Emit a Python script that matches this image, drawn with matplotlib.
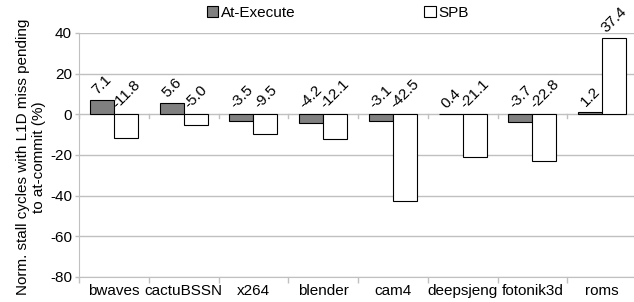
import matplotlib
matplotlib.use("Agg")
import matplotlib.pyplot as plt
import numpy as np
from matplotlib.patches import Patch

categories = ["bwaves", "cactuBSSN", "x264", "blender", "cam4", "deepsjeng", "fotonik3d", "roms"]
at_execute = [7.1, 5.6, -3.5, -4.2, -3.1, 0.4, -3.7, 1.2]
spb = [-11.8, -5.0, -9.5, -12.1, -42.5, -21.1, -22.8, 37.4]
yticks = [40, 20, 0, -20, -40, -60, -80]

plt.rcParams['font.family'] = ['Liberation Sans', 'DejaVu Sans']
FS = 11
fig = plt.figure(figsize=(6.34, 3.02), dpi=100)
ax = fig.add_axes([79/634, 1-277/302, 558/634, 244/302])

x = np.arange(len(categories))
w = 0.345
grid_c = '#c0c0c0'
ax.bar(x - w/2, at_execute, w, color='#808080', edgecolor='black', linewidth=0.8, zorder=3)
ax.bar(x + w/2, spb, w, color='white', edgecolor='black', linewidth=0.8, zorder=3)

for xs, vals in ((x - w/2, at_execute), (x + w/2, spb)):
    for xi, v in zip(xs, vals):
        ax.annotate(f"{v:.1f}", (xi, max(v, 0)), xytext=(0, 2), textcoords='offset points',
                    rotation=45, ha='center', va='bottom', fontsize=FS, zorder=4)

ax.set_xlim(-0.5, len(categories) - 0.5)
ax.set_ylim(-80, 40)
ax.set_yticks(yticks)
ax.set_yticklabels([str(t) for t in yticks], fontsize=FS)
for t in yticks:
    ax.axhline(t, color=grid_c, linewidth=1, zorder=1)
# zero axis ticks
for b in np.arange(len(categories) + 1) - 0.5:
    ax.plot([b, b], [0, -1.6], color=grid_c, linewidth=1, zorder=1, clip_on=False)

ax.set_xticks(x)
ax.set_xticklabels(categories, fontsize=FS)
ax.set_xticks(np.arange(len(categories) + 1) - 0.5, minor=True)
ax.tick_params(axis='x', which='major', length=0, pad=5)
ax.tick_params(axis='x', which='minor', length=4, color=grid_c, width=1)
ax.tick_params(axis='y', length=3, color=grid_c, width=1, pad=2)
for s in ['top', 'right']:
    ax.spines[s].set_visible(False)
ax.spines['left'].set_color(grid_c)
ax.spines['bottom'].set_color(grid_c)

ax.set_ylabel("Norm. stall cycles with L1D miss pending\nto at-commit (%)", fontsize=FS)
ax.yaxis.set_label_coords(-(79 - 46) / 558, (277 - 157) / 244)

handles = [Patch(facecolor='#808080', edgecolor='black', linewidth=0.8),
           Patch(facecolor='white', edgecolor='black', linewidth=0.8)]
fig.legend(handles, ["At-Execute", "SPB"], ncol=2, loc='center', bbox_to_anchor=(338/634, 1-13/302),
           frameon=False, fontsize=FS, handlelength=0.75, handleheight=0.75, handletextpad=0.2,
           columnspacing=8.4, borderpad=0)

fig.savefig("out.png", dpi=100)
